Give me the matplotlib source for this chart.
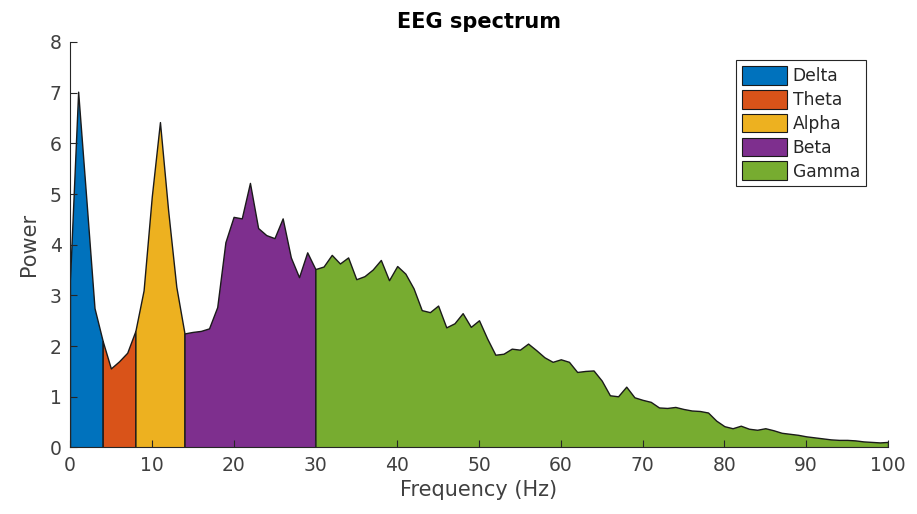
import numpy as np
import matplotlib
matplotlib.use("Agg")
import matplotlib.pyplot as plt
from matplotlib.patches import Patch

# frequency grid (1 Hz steps) and power
freqs = np.arange(0, 101)
power = [3.3, 7.02, 4.9, 2.75, 2.1, 1.56, 1.7, 1.87, 2.3, 3.1,
         4.95, 6.42, 4.68, 3.17, 2.25, 2.28, 2.3, 2.35, 2.77, 4.05,
         4.55, 4.52, 5.22, 4.33, 4.19, 4.13, 4.52, 3.75, 3.36, 3.85,
         3.52, 3.57, 3.8, 3.63, 3.75, 3.32, 3.38, 3.51, 3.7, 3.3,
         3.58, 3.43, 3.14, 2.71, 2.67, 2.8, 2.37, 2.45, 2.65, 2.38,
         2.51, 2.15, 1.83, 1.85, 1.95, 1.93, 2.05, 1.92, 1.78, 1.69,
         1.74, 1.69, 1.49, 1.51, 1.52, 1.32, 1.03, 1.01, 1.2, 0.99,
         0.94, 0.9, 0.79, 0.78, 0.8, 0.76, 0.73, 0.72, 0.69, 0.53,
         0.42, 0.38, 0.43, 0.37, 0.35, 0.38, 0.34, 0.29, 0.27, 0.25,
         0.22, 0.2, 0.18, 0.16, 0.15, 0.15, 0.14, 0.12, 0.11, 0.1,
         0.11]

bands = ["Delta", "Theta", "Alpha", "Beta", "Gamma"]
band_edges = [0, 4, 8, 14, 30, 100]
band_colors = ["#0072BD", "#D95319", "#EDB120", "#7E2F8E", "#77AC30"]

power = np.array(power)

fig = plt.figure(figsize=(9.17, 5.14), dpi=100)
ax = fig.add_axes([0.0763, 0.1294, 0.8921, 0.7889])

for name, lo, hi, col in zip(bands, band_edges[:-1], band_edges[1:], band_colors):
    sel = (freqs >= lo) & (freqs <= hi)
    ax.fill_between(freqs[sel], 0, power[sel], facecolor=col,
                    edgecolor="#1a1a1a", linewidth=1.0, label=name)

ax.set_xlim(0, 100)
ax.set_ylim(0, 8)
ax.set_xticks(range(0, 101, 10))
ax.set_yticks(range(0, 9))

for s in ["top", "right"]:
    ax.spines[s].set_visible(False)
for s in ["left", "bottom"]:
    ax.spines[s].set_color("#262626")
    ax.spines[s].set_linewidth(0.8)

ax.tick_params(direction="in", length=5, width=0.8, colors="#262626",
               labelsize=13.5, labelcolor="#404040", pad=6)

ax.set_title("EEG spectrum", fontsize=15, fontweight="bold", pad=10)
ax.set_xlabel("Frequency (Hz)", fontsize=15, color="#404040", labelpad=4)
ax.set_ylabel("Power", fontsize=15, color="#404040", labelpad=8)

handles = [Patch(facecolor=c, edgecolor="#1a1a1a", linewidth=0.8) for c in band_colors]
leg = ax.legend(handles, bands, loc="upper right", bbox_to_anchor=(0.973, 0.955),
                borderaxespad=0, fontsize=12.3, handlelength=2.6, handleheight=1.3,
                handletextpad=0.35, labelspacing=0.28, borderpad=0.35,
                fancybox=False, framealpha=1, edgecolor="#262626")
leg.get_frame().set_linewidth(0.8)
for t in leg.get_texts():
    t.set_color("#262626")

fig.savefig("out.png", dpi=100)
